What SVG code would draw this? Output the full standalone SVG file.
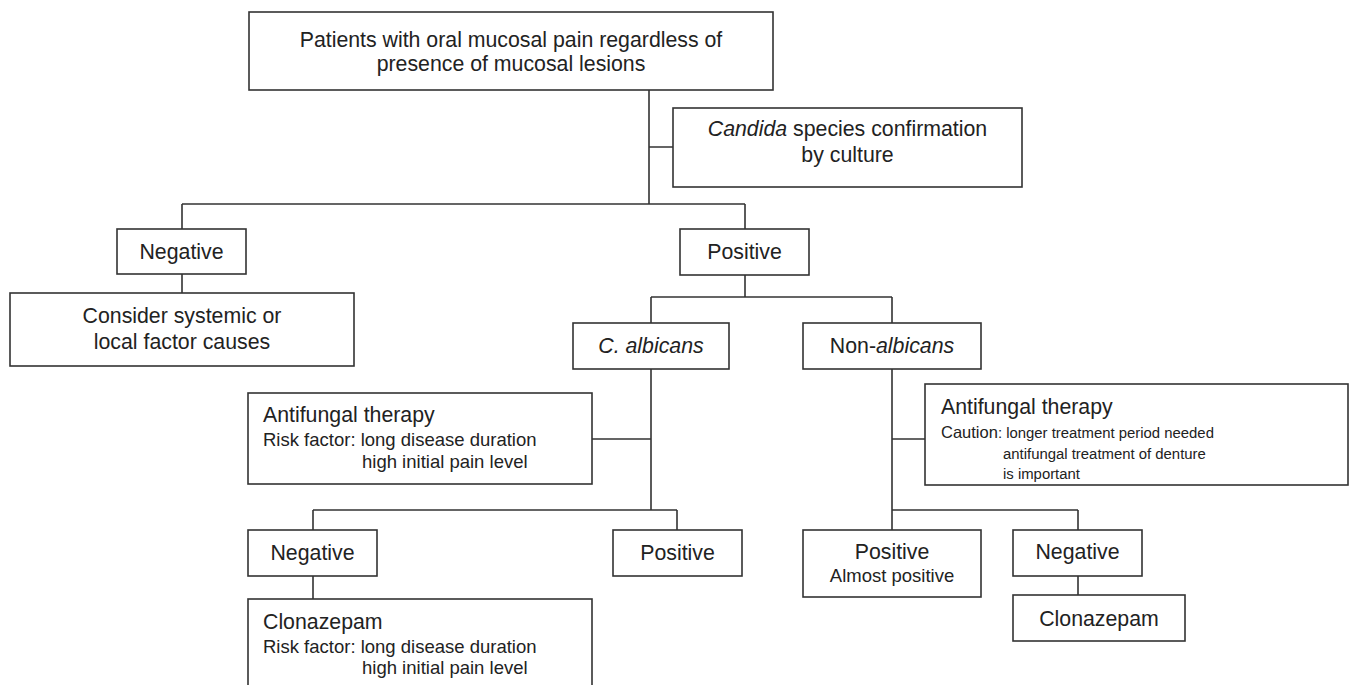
<svg xmlns="http://www.w3.org/2000/svg" width="1352" height="685" viewBox="0 0 1352 685">
<style>
.box{fill:#fff;stroke:#333;stroke-width:1.6}
.ln{fill:none;stroke:#333;stroke-width:1.6}
text{font-family:"Liberation Sans",Arial,sans-serif;fill:#222}
.h{font-size:21.3px}
.c{text-anchor:middle}
.s{font-size:18.5px}
.s2{font-size:14.9px}
.cau{font-size:16.5px}
.i{font-style:italic}
</style>
<rect width="1352" height="685" fill="#fff"/>
<g id="connectors">
<path class="ln" d="M649 90V204M649 147H673M182 204H745M182 204V229M745 204V229M182 274V293M745 275V297M651 297H892M651 297V323M892 297V323M651 369V510M592 439H651M313 510H677M313 510V530M677 510V530M313 576V599M892 369V530M892 439H925M892 510H1078M1078 510V530M1078 576V595"/>
</g>
<g id="n_top">
<rect class="box" x="249" y="12" width="524" height="78"/>
<text class="h c" x="511" y="47">Patients with oral mucosal pain regardless of</text>
<text class="h c" x="511" y="71">presence of mucosal lesions</text>
</g>
<g id="n_culture">
<rect class="box" x="673" y="108" width="349" height="79"/>
<text class="h c" x="847.5" y="136"><tspan class="i">Candida</tspan> species confirmation</text>
<text class="h c" x="847.5" y="162">by culture</text>
</g>
<g id="n_neg1">
<rect class="box" x="117" y="229" width="129" height="45"/>
<text class="h c" x="181.5" y="259">Negative</text>
</g>
<g id="n_consider">
<rect class="box" x="10" y="293" width="344" height="73"/>
<text class="h c" x="182" y="323">Consider systemic or</text>
<text class="h c" x="182" y="349">local factor causes</text>
</g>
<g id="n_pos1">
<rect class="box" x="680" y="229" width="129" height="46"/>
<text class="h c" x="744.5" y="259">Positive</text>
</g>
<g id="n_calb">
<rect class="box" x="573" y="323" width="156" height="46"/>
<text class="h c i" x="651" y="353">C. albicans</text>
</g>
<g id="n_nonalb">
<rect class="box" x="803" y="323" width="178" height="46"/>
<text class="h c" x="892" y="353">Non-<tspan class="i">albicans</tspan></text>
</g>
<g id="n_af1">
<rect class="box" x="248" y="393" width="344" height="91"/>
<text class="h" x="263" y="422">Antifungal therapy</text>
<text class="s" x="263" y="446">Risk factor: long disease duration</text>
<text class="s" x="362" y="468">high initial pain level</text>
</g>
<g id="n_af2">
<rect class="box" x="925" y="384" width="423" height="101"/>
<text class="h" x="941" y="414">Antifungal therapy</text>
<text x="941" y="438"><tspan class="cau">Caution</tspan><tspan class="s2">: longer treatment period needed</tspan></text>
<text class="s2" x="1003" y="459">antifungal treatment of denture</text>
<text class="s2" x="1003" y="479">is important</text>
</g>
<g id="n_neg2">
<rect class="box" x="248" y="530" width="129" height="46"/>
<text class="h c" x="312.5" y="560">Negative</text>
</g>
<g id="n_pos2">
<rect class="box" x="613" y="530" width="129" height="46"/>
<text class="h c" x="677.5" y="560">Positive</text>
</g>
<g id="n_clon1">
<rect class="box" x="248" y="599" width="344" height="95"/>
<text class="h" x="263" y="629">Clonazepam</text>
<text class="s" x="263" y="653">Risk factor: long disease duration</text>
<text class="s" x="362" y="674">high initial pain level</text>
</g>
<g id="n_pos3">
<rect class="box" x="803" y="530" width="178" height="67"/>
<text class="h c" x="892" y="559">Positive</text>
<text class="s c" x="892" y="582">Almost positive</text>
</g>
<g id="n_neg3">
<rect class="box" x="1013" y="530" width="129" height="46"/>
<text class="h c" x="1077.5" y="559">Negative</text>
</g>
<g id="n_clon2">
<rect class="box" x="1013" y="595" width="172" height="46"/>
<text class="h c" x="1099" y="626">Clonazepam</text>
</g>
</svg>
